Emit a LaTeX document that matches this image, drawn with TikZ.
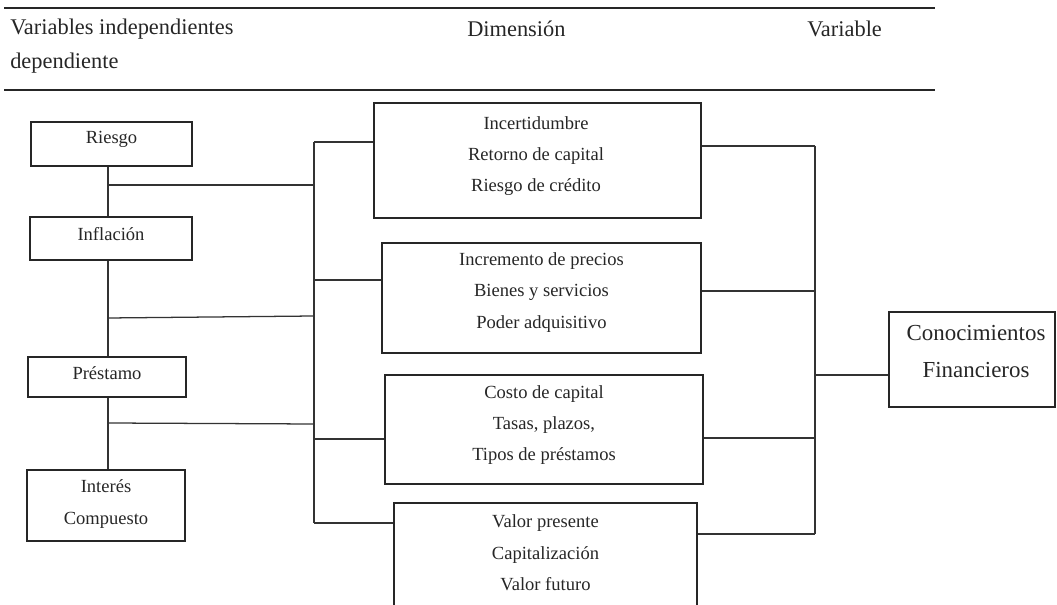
\documentclass[tikz,border=0pt]{standalone}
\usepackage{fontspec}
\setmainfont{Liberation Serif}
\usetikzlibrary{calc}
\begin{document}
\begin{tikzpicture}[x=0.75pt,y=-0.75pt,
  box/.style={draw=black!85, line width=1.1pt, inner sep=0pt, rectangle},
  txt/.style={align=center, inner sep=0pt, text=black!85, font=\fontsize{13.9}{23.5}\selectfont},
  bigtxt/.style={align=center, inner sep=0pt, text=black!85, font=\fontsize{17.2}{27.75}\selectfont},
  head/.style={anchor=west, inner sep=0pt, text=black!85, font=\fontsize{16.8}{20}\selectfont},
  conn/.style={draw=black!80, line width=0.95pt},
  rule/.style={draw=black!85, line width=1.4pt}]
\useasboundingbox (0,0) rectangle (1057,605);
\clip (0,0) rectangle (1057,605);

% header
\coordinate (ha) at (4,8); \coordinate (hb) at (935,8);
\coordinate (hc) at (4,90); \coordinate (hd) at (935,90);
\draw[rule] (ha) -- (hb);
\draw[rule] (hc) -- (hd);
\node[head] (h1) at (10,29) {Variables independientes};
\node[head] (h2) at (10,63) {dependiente};
\node[head] (h3) at (467,29) {Dimensión};
\node[head] (h4) at (807,29) {Variable};

% left boxes
\node[box, minimum width=120.75pt, minimum height=33pt] (r1) at (111.5,144) {};
\node[box, minimum width=121.5pt, minimum height=32.25pt] (r2) at (111,238.5) {};
\node[box, minimum width=118.5pt, minimum height=30pt] (r3) at (107,377) {};
\node[box, minimum width=118.5pt, minimum height=53.25pt] (r4) at (106,505.5) {};
\node[txt] (r1t) at (111.5,139) {Riesgo};
\node[txt] (r2t) at (111,234) {Inflación};
\node[txt] (r3t) at (107,373) {Préstamo};
\node[txt] (r4t) at (106,504) {Interés\\Compuesto};

% middle boxes
\node[box, minimum width=245.25pt, minimum height=86.25pt] (d1) at (537.5,160.5) {};
\node[box, minimum width=239.25pt, minimum height=82.5pt] (d2) at (541.5,298) {};
\node[box, minimum width=238.5pt, minimum height=81.75pt] (d3) at (544,429.5) {};
\node[box, minimum width=227.25pt, minimum height=102.75pt] (d4) at (545.5,571.5) {};
\node[txt] (d1t) at (536,156) {Incertidumbre\\Retorno de capital\\Riesgo de crédito};
\node[txt] (d2t) at (541.5,292.5) {Incremento de precios\\Bienes y servicios\\Poder adquisitivo};
\node[txt] (d3t) at (544,425) {Costo de capital\\Tasas, plazos,\\Tipos de préstamos};
\node[txt] (d4t) at (545.5,553) {Valor presente\\Capitalización\\Valor futuro};

% right box
\node[box, minimum width=124.5pt, minimum height=71.25pt] (cf) at (972,359.5) {};
\node[bigtxt] (cft) at (976,352) {Conocimientos\\Financieros};

% left spine
\coordinate (L) at (108,0);
\draw[conn] (r1.south -| L) -- (r2.north -| L);
\draw[conn] (r2.south -| L) -- (r3.north -| L);
\draw[conn] (r3.south -| L) -- (r4.north -| L);

% links to middle spine
\coordinate (j1) at (108,185); \coordinate (k1) at (314,185);
\coordinate (j2) at (108,318); \coordinate (k2) at (314,316);
\coordinate (j3) at (108,423); \coordinate (k3) at (314,424);
\draw[conn] (j1) -- (k1);
\draw[conn] (j2) -- (k2);
\draw[conn] (j3) -- (k3);

% middle spine and stubs
\coordinate (m1) at (314,142);
\coordinate (m2) at (314,280);
\coordinate (m3) at (314,439);
\coordinate (m4) at (314,523);
\draw[conn] (m1) -- (m4);
\draw[conn] (m1) -- (m1 -| d1.west);
\draw[conn] (m2) -- (m2 -| d2.west);
\draw[conn] (m3) -- (m3 -| d3.west);
\draw[conn] (m4) -- (m4 -| d4.west);

% right spine
\coordinate (q1) at (815,146);
\coordinate (q2) at (815,291);
\coordinate (q3) at (815,438);
\coordinate (q4) at (815,534);
\coordinate (q5) at (815,375);
\draw[conn] (q1) -- (q4);
\draw[conn] (q1 -| d1.east) -- (q1);
\draw[conn] (q2 -| d2.east) -- (q2);
\draw[conn] (q3 -| d3.east) -- (q3);
\draw[conn] (q4 -| d4.east) -- (q4);
\draw[conn] (q5) -- (q5 -| cf.west);
\end{tikzpicture}
\end{document}
